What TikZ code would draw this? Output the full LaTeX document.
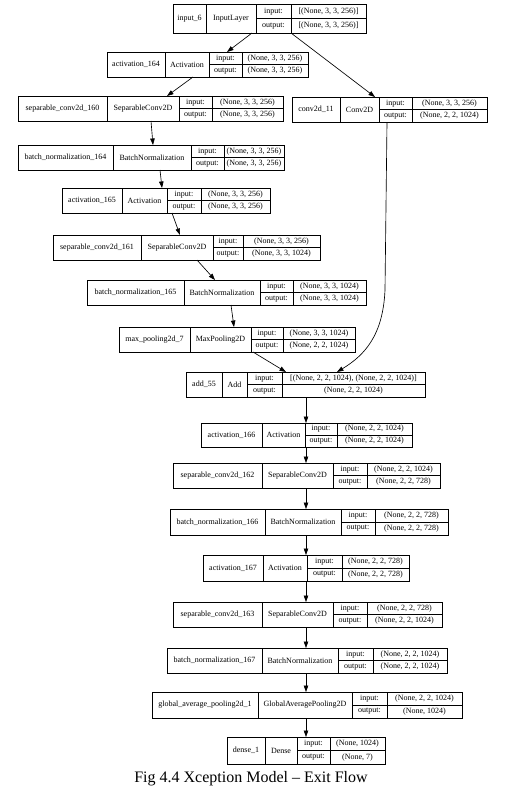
\documentclass[tikz,border=0pt]{standalone}
\usepackage{fontspec}
\setmainfont{Liberation Serif}
\usetikzlibrary{arrows.meta}
\tikzset{
  box/.style={draw=black, line width=0.65pt, inner sep=0pt, outer sep=0pt},
  grid/.style={draw=black, line width=0.65pt},
  txt/.style={inner sep=0pt, font=\fontsize{8}{10}\selectfont},
  arr/.style={draw=black, line width=0.65pt, -{Triangle[length=6.5pt,width=4.5pt]}},
  captxt/.style={inner sep=0pt, font=\fontsize{16}{19}\selectfont, anchor=base}
}
% \layer{id}{x0}{x1}{x2}{x3}{x4}{ytop}{ybot}{name}{class}{in}{out}
\newcommand\layer[9]{%
  \def\lyId{#1}\def\lyA{#2}\def\lyB{#3}\def\lyC{#4}\def\lyD{#5}\def\lyE{#6}%
  \def\lyT{#7}\def\lyBo{#8}\def\lyName{#9}\layerPart}
\newcommand\layerPart[3]{%
  \pgfmathsetmacro\lyM{(\lyT+\lyBo)/2}%
  \node[box, minimum width={(\lyE-\lyA)*1pt}, minimum height={(\lyBo-\lyT)*1pt}, anchor=north west] (\lyId) at (\lyA,\lyT) {};
  \draw[grid] (\lyB,\lyT) -- (\lyB,\lyBo) (\lyC,\lyT) -- (\lyC,\lyBo) (\lyD,\lyT) -- (\lyD,\lyBo) (\lyC,\lyM) -- (\lyE,\lyM);
  \node[txt] at ({(\lyA+\lyB)/2},\lyM) {\lyName};
  \node[txt] at ({(\lyB+\lyC)/2},\lyM) {#1};
  \node[txt] at ({(\lyC+\lyD)/2},{(\lyT+\lyM)/2}) {input:};
  \node[txt] at ({(\lyC+\lyD)/2},{(\lyM+\lyBo)/2}) {output:};
  \node[txt] at ({(\lyD+\lyE)/2},{(\lyT+\lyM)/2}) {#2};
  \node[txt] at ({(\lyD+\lyE)/2},{(\lyM+\lyBo)/2}) {#3};
}
\begin{document}
\begin{tikzpicture}[x=1pt,y=-1pt]
\useasboundingbox[fill=white] (0,0) rectangle (507,793);

\layer{input6}{173}{206}{256}{291}{366}{4}{33}{input\_6}{InputLayer}{[(None, 3, 3, 256)]}{[(None, 3, 3, 256)]}
\layer{act164}{107}{165}{209}{242}{308}{52}{77}{activation\_164}{Activation}{(None, 3, 3, 256)}{(None, 3, 3, 256)}
\layer{sep160}{18}{107}{179}{212}{283}{96}{121}{separable\_conv2d\_160}{SeparableConv2D}{(None, 3, 3, 256)}{(None, 3, 3, 256)}
\layer{conv11}{292}{340}{379}{412}{487}{97}{122}{conv2d\_11}{Conv2D}{(None, 3, 3, 256)}{(None, 2, 2, 1024)}
\layer{bn164}{18}{113}{191}{224}{284}{145}{170}{batch\_normalization\_164}{BatchNormalization}{(None, 3, 3, 256)}{(None, 3, 3, 256)}
\layer{act165}{62}{122}{167}{201}{270}{188}{213}{activation\_165}{Activation}{(None, 3, 3, 256)}{(None, 3, 3, 256)}
\layer{sep161}{53}{141}{213}{243}{320}{235}{260}{separable\_conv2d\_161}{SeparableConv2D}{(None, 3, 3, 256)}{(None, 3, 3, 1024)}
\layer{bn165}{87}{184}{260}{293}{366}{280}{305}{batch\_normalization\_165}{BatchNormalization}{(None, 3, 3, 1024)}{(None, 3, 3, 1024)}
\layer{maxpool7}{119}{190}{251}{283}{355}{327}{352}{max\_pooling2d\_7}{MaxPooling2D}{(None, 3, 3, 1024)}{(None, 2, 2, 1024)}
\layer{add55}{186}{222}{247}{282}{425}{372}{397}{add\_55}{Add}{[(None, 2, 2, 1024), (None, 2, 2, 1024)]}{(None, 2, 2, 1024)}
\layer{act166}{201}{262}{305}{337}{412}{423}{447}{activation\_166}{Activation}{(None, 2, 2, 1024)}{(None, 2, 2, 1024)}
\layer{sep162}{173}{262}{333}{367}{440}{463}{488}{separable\_conv2d\_162}{SeparableConv2D}{(None, 2, 2, 1024)}{(None, 2, 2, 728)}
\layer{bn166}{170}{265}{341}{375}{448}{509}{535}{batch\_normalization\_166}{BatchNormalization}{(None, 2, 2, 728)}{(None, 2, 2, 728)}
\layer{act167}{203}{263}{307}{342}{409}{555}{581}{activation\_167}{Activation}{(None, 2, 2, 728)}{(None, 2, 2, 728)}
\layer{sep163}{173}{262}{333}{367}{442}{602}{627}{separable\_conv2d\_163}{SeparableConv2D}{(None, 2, 2, 728)}{(None, 2, 2, 1024)}
\layer{bn167}{167}{262}{338}{373}{447}{648}{673}{batch\_normalization\_167}{BatchNormalization}{(None, 2, 2, 1024)}{(None, 2, 2, 1024)}
\layer{gap1}{152}{258}{352}{387}{462}{692}{718}{global\_average\_pooling2d\_1}{GlobalAveragePooling2D}{(None, 2, 2, 1024)}{(None, 1024)}
\layer{dense1}{227}{265}{297}{330}{385}{737}{764}{dense\_1}{Dense}{(None, 1024)}{(None, 7)}

% connectors
\draw[arr] ([xshift=79pt]input6.south west) -- ([xshift=120pt]act164.north west);
\draw[arr] ([xshift=118pt]input6.south west) -- ([xshift=83pt]conv11.north west);
\draw[arr] ([xshift=86pt]act164.south west) -- ([xshift=149pt]sep160.north west);
\draw[arr] ([xshift=133pt]sep160.south west) -- ([xshift=135pt]bn164.north west);
\draw[arr] ([xshift=142pt]bn164.south west) -- ([xshift=100pt]act165.north west);
\draw[arr] ([xshift=110pt]act165.south west) -- ([xshift=127pt]sep161.north west);
\draw[arr] ([xshift=144pt]sep161.south west) -- ([xshift=128pt]bn165.north west);
\draw[arr] ([xshift=144pt]bn165.south west) -- ([xshift=115pt]maxpool7.north west);
\draw[arr] ([xshift=134pt]maxpool7.south west) -- ([xshift=100pt]add55.north west);
\draw[arr] ([xshift=95pt]conv11.south west) -- (385,290) .. controls (383,335) and (365,355) .. ([xshift=151pt]add55.north west);
\draw[arr] ([xshift=120pt]add55.south west) -- ([xshift=105pt]act166.north west);
\draw[arr] ([xshift=105pt]act166.south west) -- ([xshift=133pt]sep162.north west);
\draw[arr] ([xshift=133pt]sep162.south west) -- ([xshift=136pt]bn166.north west);
\draw[arr] ([xshift=136pt]bn166.south west) -- ([xshift=103pt]act167.north west);
\draw[arr] ([xshift=103pt]act167.south west) -- ([xshift=133pt]sep163.north west);
\draw[arr] ([xshift=133pt]sep163.south west) -- ([xshift=139pt]bn167.north west);
\draw[arr] ([xshift=139pt]bn167.south west) -- ([xshift=154pt]gap1.north west);
\draw[arr] ([xshift=154pt]gap1.south west) -- ([xshift=79pt]dense1.north west);

\node[captxt] (caption) at (251,782) {Fig 4.4 Xception Model – Exit Flow};
\end{tikzpicture}
\end{document}
